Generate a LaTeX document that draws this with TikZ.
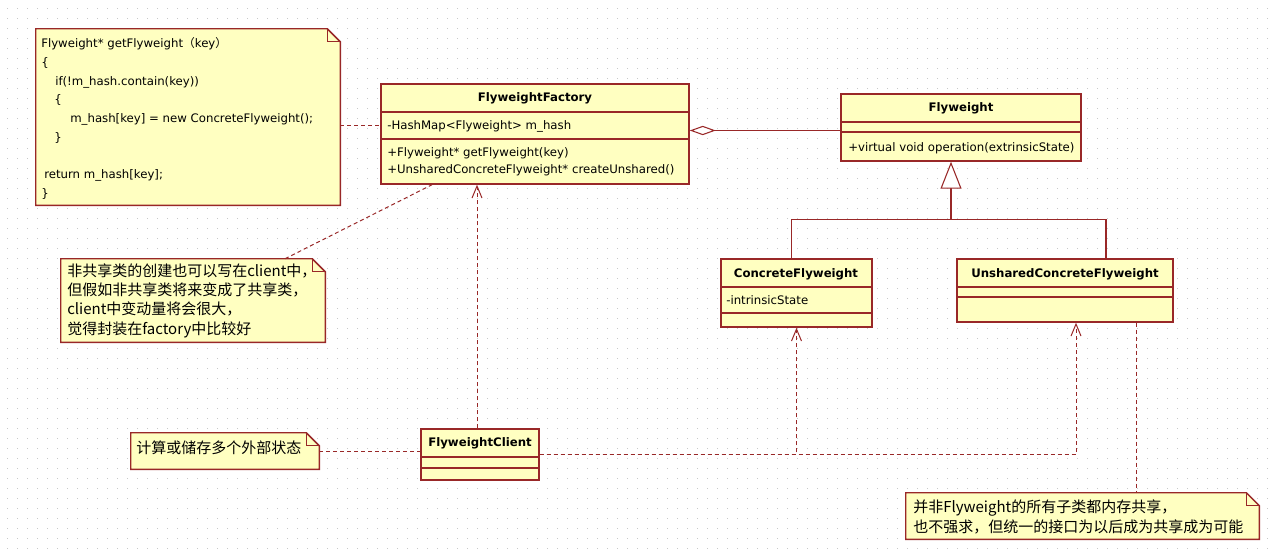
\documentclass[tikz,border=0pt]{standalone}
\usepackage{fontspec}
\setmainfont{DejaVu Sans}
\newfontfamily\cjk{Noto Sans CJK SC}
\usetikzlibrary{fit,calc,arrows.meta}
\definecolor{umlred}{RGB}{153,40,40}
\definecolor{umlfill}{RGB}{255,255,193}
\definecolor{dotgray}{RGB}{200,200,200}

% note outline with the folded corner
\newcommand{\dogear}[1]{%
  \draw[umlborder, fill=umlfill] (#1.north west) -- ($(#1.north east)+(-13,0)$) -- ($(#1.north east)+(0,13)$) -- (#1.south east) -- (#1.south west) -- cycle;
  \draw[umlborder] ($(#1.north east)+(-13,0)$) |- ($(#1.north east)+(0,13)$);}

\begin{document}
\begin{tikzpicture}[x=0.75pt, y=-0.75pt,
	umlborder/.style={draw=umlred, line width=1.1pt},
	cls/.style={umlborder, fill=umlfill, inner sep=0pt},
	notebg/.style={inner sep=0pt},
	umltitle/.style={font=\fontsize{8.8}{10}\selectfont\bfseries, inner sep=0pt, anchor=base},
	umlmember/.style={font=\fontsize{8.8}{12.75}\selectfont, inner sep=0pt, anchor=base west, align=left},
	notetxt/.style={font=\cjk\fontsize{11.25}{14.3}\selectfont, inner sep=0pt, anchor=base west, align=left},
	umlline/.style={draw=umlred, line width=0.8pt},
	notelink/.style={umlline, line width=0.75pt, dash pattern=on 3pt off 2.25pt},
	umldep/.style={notelink, -{Straight Barb[length=9pt, width=7.5pt]}},
	griddots/.style={draw=dotgray, line width=0.75pt, dash pattern=on 0.75pt off 6.75pt}]

	\fill[white] (0,0) rectangle (1277,557);
	\useasboundingbox (0,0) rectangle (1277,557);
	\foreach \gy in {8,18,...,548}
		\draw[griddots] (7,\gy) -- (1277,\gy);

	% classes
	\node[cls, fit={(381,84) (689,184)}] (factory) {};
	\node[cls, fit={(841,94) (1081,161)}] (fly) {};
	\node[cls, fit={(721,259) (872,327)}] (concrete) {};
	\node[cls, fit={(957,259) (1173,322)}] (unshared) {};
	\node[cls, fit={(421,429) (539,480)}] (client) {};
	\foreach \n/\ya/\yb in {factory/112/139, fly/122/132, concrete/287/313, unshared/287/297, client/457/468} {
		\draw[umlborder] (\n.west |- 0,\ya) -- (\n.east |- 0,\ya);
		\draw[umlborder] (\n.west |- 0,\yb) -- (\n.east |- 0,\yb);
	}

	\node[umltitle] (factitle) at (535,101) {FlyweightFactory};
	\node[umlmember] (facattr) at (387,129) {-HashMap<Flyweight> m\_hash};
	\node[umlmember] (facops) at (387,173) {+Flyweight* getFlyweight(key)\\+UnsharedConcreteFlyweight* createUnshared()};
	\node[umltitle] (flytitle) at (961,111) {Flyweight};
	\node[umlmember] (flyop) at (848,151) {+virtual void operation(extrinsicState)};
	\node[umltitle] (conctitle) at (796,277) {ConcreteFlyweight};
	\node[umlmember] (concattr) at (726,304) {-intrinsicState};
	\node[umltitle] (unshtitle) at (1065,277) {UnsharedConcreteFlyweight};
	\node[umltitle] (clititle) at (480,446) {FlyweightClient};

	% notes
	\node[notebg, fit={(36,29) (340,205)}] (code) {};
	\node[notebg, fit={(61,259) (325,342)}] (createnote) {};
	\node[notebg, fit={(131,433) (319,469)}] (statenote) {};
	\node[notebg, fit={(906,493) (1259,539)}] (sharenote) {};
	\dogear{code}
	\dogear{createnote}
	\dogear{statenote}
	\dogear{sharenote}

	\node[umlmember, font=\fontsize{8.8}{14}\selectfont] (codetxt) at (41,197) {Flyweight* getFlyweight{\cjk （}key{\cjk ）}\\
		\{\\
		\hspace*{10.5pt}if(!m\_hash.contain(key))\\
		\hspace*{9.75pt}\{\\
		\hspace*{21.75pt}m\_hash[key] = new ConcreteFlyweight();\\
		\hspace*{9.75pt}\}\\[14pt]
		\hspace*{2.25pt}return m\_hash[key];\\
		\}};
	\node[notetxt] (createtxt) at (67,334) {非共享类的创建也可以写在client中，\\但假如非共享类将来变成了共享类，\\client中变动量将会很大，\\觉得封装在factory中比较好};
	\node[notetxt] (statetxt) at (136,453) {计算或储存多个外部状态};
	\node[notetxt] (sharetxt) at (913,532) {并非Flyweight的所有子类都内存共享，\\也不强求，但统一的接口为以后成为共享成为可能};

	% connectors
	\coordinate (aggr) at ($(fly.west)+(0,3)$);
	\draw[umlline, -{Diamond[open, fill=white, length=19.5pt, width=7pt]}] (aggr) -- (aggr -| factory.east);
	\coordinate (split) at ($(fly.south)+(-10,58)$);
	\draw[umlline] ($(concrete.north)+(-5,0)$) |- (split) -| ($(unshared.north)+(41,0)$);
	\draw[umlline, -{Triangle[open, fill=white, length=20.25pt, width=15.75pt]}] (split) -- ($(fly.south)+(-10,0)$);

	\draw[notelink] (code.east |- facattr) -- (factory.west |- facattr);
	\draw[notelink] ($(createnote.north)+(92,0)$) -- ($(factory.south)+(-103,0)$);
	\draw[notelink] (statenote.east) -- (statenote.east -| client.west);
	\coordinate (shareup) at ($(unshared.south)+(71,0)$);
	\draw[notelink] (shareup) -- (shareup |- sharenote.north);

	\draw[umldep] ($(client.north)+(-3,0)$) -- ($(factory.south)+(-58,0)$);
	\draw[umldep] (client.east) -| (concrete.south);
	\draw[umldep] (client.east) -| ($(unshared.south)+(11,0)$);

\end{tikzpicture}
\end{document}
